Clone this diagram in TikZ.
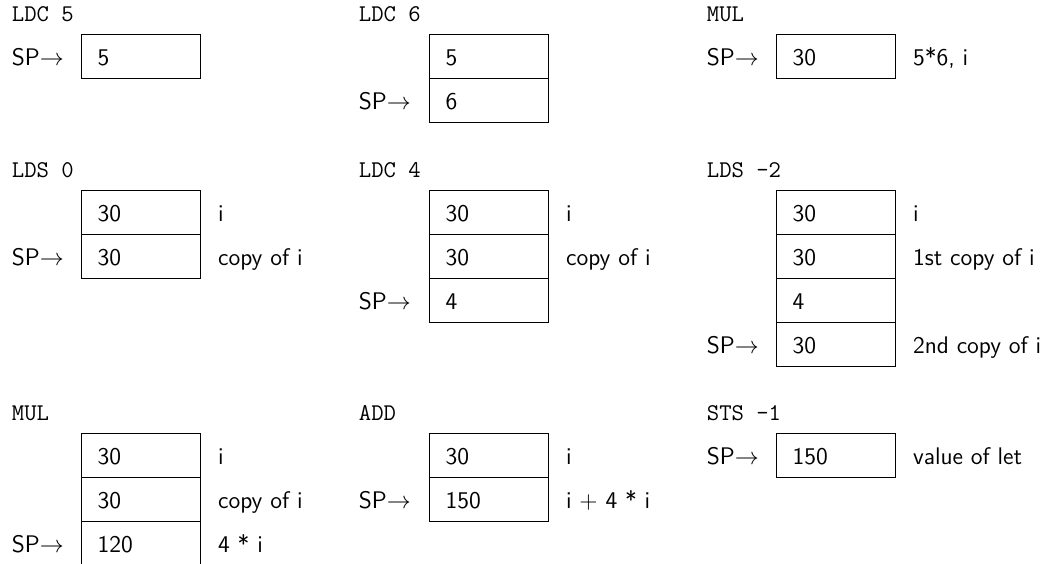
\documentclass[tikz,border=0pt]{standalone}
\begin{document}
\begin{tikzpicture}[x=0.5pt,y=-0.5pt,
  every node/.style={font=\fontsize{12pt}{14pt}\selectfont\sffamily},
  cell/.style={draw, line width=0.6pt, anchor=north west, outer sep=0pt,
    minimum height=22pt, text width=43.5pt, inner xsep=8pt, inner ysep=0pt,
    align=left, text height=8.7pt, text depth=0pt},
  below cell/.style={cell, at={(#1.south west)}},
  note/.style={anchor=base west, inner sep=0pt},
  sp/.style={anchor=base west, inner sep=0pt},
  instr/.style={anchor=base west, inner sep=0pt,
    font=\fontsize{12pt}{14pt}\selectfont\ttfamily}]
\useasboundingbox (0,0) rectangle (1048,563);

% ---------- LDC 5 ----------
\node[cell] (a1) at (81.5,34.5) {5};
\node[instr] (ai) at ([xshift=-35pt,yshift=6.65pt]a1.north west) {LDC 5};
\node[sp] (asp) at ([xshift=-35pt]a1.base west) {SP$\rightarrow$};

% ---------- LDC 6 ----------
\node[cell] (b1) at (429.5,34.5) {5};
\node[below cell=b1] (b2) {6};
\node[instr] (bi) at ([xshift=-35.5pt,yshift=6.65pt]b1.north west) {LDC 6};
\node[sp] (bsp) at ([xshift=-35.5pt]b2.base west) {SP$\rightarrow$};

% ---------- MUL ----------
\node[cell] (c1) at (776.5,34.5) {30};
\node[instr] (ci) at ([xshift=-35pt,yshift=6.65pt]c1.north west) {MUL};
\node[sp] (csp) at ([xshift=-35pt]c1.base west) {SP$\rightarrow$};
\node[note] (cn1) at ([xshift=8.6pt]c1.base east) {5*6, i};

% ---------- LDS 0 ----------
\node[cell] (d1) at (81.5,190.5) {30};
\node[below cell=d1] (d2) {30};
\node[instr] (di) at ([xshift=-35pt,yshift=6.65pt]d1.north west) {LDS 0};
\node[sp] (dsp) at ([xshift=-35pt]d2.base west) {SP$\rightarrow$};
\node[note] (dn1) at ([xshift=8.6pt]d1.base east) {i};
\node[note] (dn2) at ([xshift=8.6pt]d2.base east) {copy of i};

% ---------- LDC 4 ----------
\node[cell] (e1) at (429.5,190.5) {30};
\node[below cell=e1] (e2) {30};
\node[below cell=e2] (e3) {4};
\node[instr] (ei) at ([xshift=-35.5pt,yshift=6.65pt]e1.north west) {LDC 4};
\node[sp] (esp) at ([xshift=-35.5pt]e3.base west) {SP$\rightarrow$};
\node[note] (en1) at ([xshift=8.6pt]e1.base east) {i};
\node[note] (en2) at ([xshift=8.6pt]e2.base east) {copy of i};

% ---------- LDS -2 ----------
\node[cell] (f1) at (776.5,190.5) {30};
\node[below cell=f1] (f2) {30};
\node[below cell=f2] (f3) {4};
\node[below cell=f3] (f4) {30};
\node[instr] (fi) at ([xshift=-35pt,yshift=6.65pt]f1.north west) {LDS -2};
\node[sp] (fsp) at ([xshift=-35pt]f4.base west) {SP$\rightarrow$};
\node[note] (fn1) at ([xshift=8.6pt]f1.base east) {i};
\node[note] (fn2) at ([xshift=8.6pt]f2.base east) {1st copy of i};
\node[note] (fn4) at ([xshift=8.6pt]f4.base east) {2nd copy of i};

% ---------- MUL ----------
\node[cell] (g1) at (81.5,433.5) {30};
\node[below cell=g1] (g2) {30};
\node[below cell=g2] (g3) {120};
\node[instr] (gi) at ([xshift=-35pt,yshift=6.65pt]g1.north west) {MUL};
\node[sp] (gsp) at ([xshift=-35pt]g3.base west) {SP$\rightarrow$};
\node[note] (gn1) at ([xshift=8.6pt]g1.base east) {i};
\node[note] (gn2) at ([xshift=8.6pt]g2.base east) {copy of i};
\node[note] (gn3) at ([xshift=8.6pt]g3.base east) {4 * i};

% ---------- ADD ----------
\node[cell] (h1) at (429.5,433.5) {30};
\node[below cell=h1] (h2) {150};
\node[instr] (hi) at ([xshift=-35.5pt,yshift=6.65pt]h1.north west) {ADD};
\node[sp] (hsp) at ([xshift=-35.5pt]h2.base west) {SP$\rightarrow$};
\node[note] (hn1) at ([xshift=8.6pt]h1.base east) {i};
\node[note] (hn2) at ([xshift=8.6pt]h2.base east) {i $+$ 4 * i};

% ---------- STS -1 ----------
\node[cell] (k1) at (776.5,433.5) {150};
\node[instr] (ki) at ([xshift=-35pt,yshift=6.65pt]k1.north west) {STS -1};
\node[sp] (ksp) at ([xshift=-35pt]k1.base west) {SP$\rightarrow$};
\node[note] (kn1) at ([xshift=8.6pt]k1.base east) {value of let};
\end{tikzpicture}
\end{document}
